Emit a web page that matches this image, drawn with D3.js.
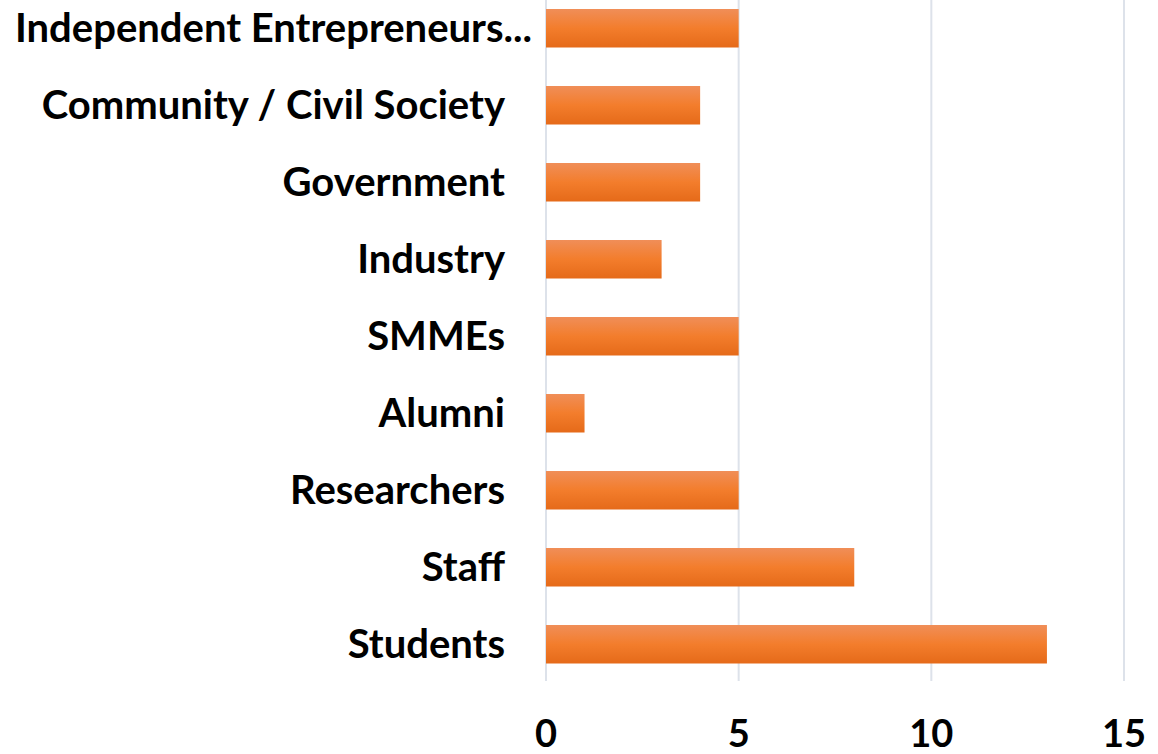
<!DOCTYPE html>
<html>
<head>
<meta charset="utf-8">
<script src="https://cdn.jsdelivr.net/npm/d3@7"></script>
<style>
  body { margin: 0; background: #fff; }
  text { font-family: Lato, "Open Sans", sans-serif; font-weight: bold; fill: #000; }
</style>
</head>
<body>
<div id="chart"></div>
<script>
var categories = ["Independent Entrepreneurs...", "Community / Civil Society", "Government", "Industry",
                  "SMMEs", "Alumni", "Researchers", "Staff", "Students"]
var values = [5, 4, 4, 3, 5, 1, 5, 8, 13]
var xTicks = [0, 5, 10, 15]

var width = 1158, height = 754

var svg = d3.select("#chart").append("svg")
    .attr("width", width)
    .attr("height", height)

var defs = svg.append("defs")
var grad = defs.append("linearGradient")
    .attr("id", "barGrad")
    .attr("x1", 0).attr("y1", 0).attr("x2", 0).attr("y2", 1)
grad.append("stop").attr("offset", "0%").attr("stop-color", "#f08e58")
grad.append("stop").attr("offset", "50%").attr("stop-color", "#f37d2c")
grad.append("stop").attr("offset", "100%").attr("stop-color", "#e56a19")

var xScale = d3.scaleLinear().domain([0, 15]).range([546, 1124])
var yScale = d3.scaleBand().domain(categories).range([-29.5, 702]).padding(0.5)

// vertical gridlines
svg.selectAll(".grid")
    .data(xTicks)
    .enter()
    .append("line")
    .attr("class", "grid")
    .attr("x1", function(d){ return xScale(d) })
    .attr("x2", function(d){ return xScale(d) })
    .attr("y1", 0)
    .attr("y2", 681)
    .style("stroke", "#dde2ea")
    .style("stroke-width", 2)

svg.selectAll(".bar")
    .data(values)
    .enter()
    .append("rect")
    .attr("class", "bar")
    .attr("x", xScale(0))
    .attr("y", function(d, i){ return yScale(categories[i]) })
    .attr("width", function(d){ return xScale(d) - xScale(0) })
    .attr("height", yScale.bandwidth())
    .attr("fill", "url(#barGrad)")

// category labels: right aligned, too long ones start at the left edge
var labelRight = 505, labelLeft = 15
svg.selectAll(".cat")
    .data(categories)
    .enter()
    .append("text")
    .attr("class", "cat")
    .attr("y", function(d){ return yScale(d) + yScale.bandwidth()/2 })
    .attr("dy", "0.35em")
    .attr("font-size", "40px")
    .text(function(d){ return d })
    .each(function(d){
        var t = d3.select(this)
        if (this.getComputedTextLength() > labelRight - labelLeft - 20) {
            t.attr("x", labelLeft).attr("text-anchor", "start")
        } else {
            t.attr("x", labelRight).attr("text-anchor", "end")
        }
    })

svg.selectAll(".tick")
    .data(xTicks)
    .enter()
    .append("text")
    .attr("class", "tick")
    .attr("x", function(d){ return xScale(d) })
    .attr("y", 747)
    .attr("text-anchor", "middle")
    .attr("font-size", "38px")
    .text(function(d){ return d })
</script>
</body>
</html>
